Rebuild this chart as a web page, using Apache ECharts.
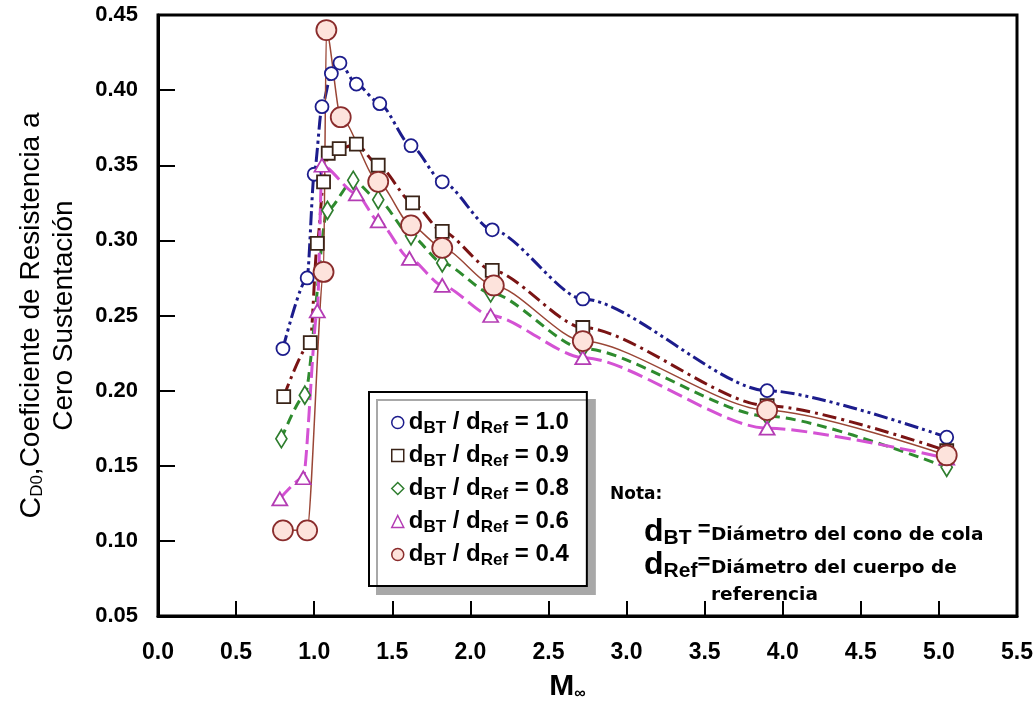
<!DOCTYPE html>
<html><head><meta charset="utf-8">
<script src="https://cdn.jsdelivr.net/npm/echarts@6/dist/echarts.min.js"></script>
<style>html,body{margin:0;padding:0;background:#fff}#c{width:1036px;height:707px}</style>
</head><body><div id="c"></div><script>
// ---- data ----
const xTickValues = [0.0, 0.5, 1.0, 1.5, 2.0, 2.5, 3.0, 3.5, 4.0, 4.5, 5.0, 5.5];
const yTickValues = [0.05, 0.10, 0.15, 0.20, 0.25, 0.30, 0.35, 0.40, 0.45];
const ratioLabels = ['1.0', '0.9', '0.8', '0.6', '0.4'];

const mach_10 = [0.80, 0.955, 1.00, 1.05, 1.11, 1.165, 1.27, 1.42, 1.62, 1.82, 2.14, 2.72, 3.90, 5.05];
const cd_10   = [0.228, 0.275, 0.344, 0.389, 0.411, 0.418, 0.404, 0.391, 0.363, 0.339, 0.307, 0.261, 0.200, 0.169];

const mach_09 = [0.805, 0.975, 1.02, 1.06, 1.09, 1.16, 1.27, 1.41, 1.63, 1.82, 2.14, 2.72, 3.90, 5.05];
const cd_09   = [0.196, 0.232, 0.298, 0.339, 0.358, 0.361, 0.364, 0.350, 0.325, 0.306, 0.280, 0.242, 0.190, 0.160];

const mach_08 = [0.79, 0.94, 1.085, 1.25, 1.41, 1.62, 1.82, 2.13, 2.72, 3.90, 5.05];
const cd_08   = [0.168, 0.197, 0.320, 0.340, 0.327, 0.303, 0.285, 0.265, 0.228, 0.183, 0.149];

const mach_06 = [0.78, 0.93, 1.02, 1.05, 1.27, 1.41, 1.61, 1.82, 2.13, 2.72, 3.90, 5.05];
const cd_06   = [0.128, 0.142, 0.253, 0.350, 0.331, 0.313, 0.288, 0.270, 0.250, 0.222, 0.175, 0.155];

const mach_04 = [0.80, 0.955, 1.06, 1.078, 1.17, 1.41, 1.62, 1.82, 2.15, 2.72, 3.90, 5.05];
const cd_04   = [0.107, 0.107, 0.279, 0.440, 0.382, 0.339, 0.310, 0.295, 0.270, 0.233, 0.187, 0.157];

// ---- styling ----
const pairs = (x, y) => x.map((v, i) => [v, y[i]]);
const FONT = 'Liberation Sans, Arial, sans-serif';
const styles = [
  { name: ratioLabels[0], data: pairs(mach_10, cd_10), line: '#1c1c8c', dash: [14, 4, 3, 4, 3, 4], width: 3, symbol: 'circle', size: 13, stroke: '#1c1c8c', fill: '#ffffff' },
  { name: ratioLabels[1], data: pairs(mach_09, cd_09), line: '#7a1414', dash: [14, 5, 3, 5], width: 3, symbol: 'rect', size: 13, stroke: '#3a2418', fill: '#ffffff' },
  { name: ratioLabels[2], data: pairs(mach_08, cd_08), line: '#2e8b2e', dash: [10, 6], width: 3, symbol: 'diamond', size: [11, 18], stroke: '#2e7d2e', fill: '#ffffff' },
  { name: ratioLabels[3], data: pairs(mach_06, cd_06), line: '#d452d4', dash: [16, 6], width: 3, symbol: 'triangle', size: [15, 13], stroke: '#b43cb4', fill: '#ffffff' },
  { name: ratioLabels[4], data: pairs(mach_04, cd_04), line: '#9a4636', dash: 'solid', width: 1.5, symbol: 'circle', size: 20, stroke: '#8a2c2c', fill: '#fde3dc' }
];

const series = styles.map(s => ({
  name: s.name, type: 'line', data: s.data, smooth: 0.25, smoothMonotone: 'x',
  symbol: s.symbol, symbolSize: s.size, showAllSymbol: true,
  lineStyle: { color: s.line, width: s.width, type: s.dash },
  itemStyle: { color: s.fill, borderColor: s.stroke, borderWidth: 1.8 },
  emphasis: { disabled: true }, silent: true, z: 3
}));

const legendData = styles.map(s => ({
  name: s.name, icon: s.symbol,
  itemStyle: { color: s.fill, borderColor: s.stroke, borderWidth: 1.5 }
}));

const noteFont = 'bold 18.5px "DejaVu Sans", sans-serif';
const noteRich = {
  d: { font: 'bold 32px "Liberation Sans", Arial', lineHeight: 36 },
  s: { font: 'bold 21px "Liberation Sans", Arial', padding: [13, 0, 0, 0], lineHeight: 36 },
  e: { font: 'bold 22px "Liberation Sans", Arial', padding: [0, 0, 4, 0], lineHeight: 36 }
};

const chart = echarts.init(document.getElementById('c'), null, { renderer: 'canvas' });
chart.setOption({
  animation: false,
  backgroundColor: '#fff',
  grid: { left: 158, right: 19, top: 15, bottom: 87, show: true, borderColor: '#000', borderWidth: 3, backgroundColor: 'transparent' },
  xAxis: {
    type: 'value', min: xTickValues[0], max: xTickValues[xTickValues.length - 1], interval: 0.5,
    axisLine: { lineStyle: { color: '#000', width: 3 } },
    axisTick: { inside: true, length: 15, lineStyle: { color: '#000', width: 2 } },
    splitLine: { show: false },
    axisLabel: { margin: 25, color: '#000', fontFamily: FONT, fontWeight: 'bold', fontSize: 23,
      formatter: v => v.toFixed(1) },
    name: '{m|M}{s|∞}', nameLocation: 'middle', nameGap: 56,
    nameTextStyle: { padding: [0, 40, 0, 0], rich: {
      m: { fontFamily: FONT, fontWeight: 'bold', fontSize: 30, color: '#000' },
      s: { fontFamily: FONT, fontWeight: 'bold', fontSize: 16, color: '#000', padding: [14, 0, 0, 0] } } }
  },
  yAxis: {
    type: 'value', min: yTickValues[0], max: yTickValues[yTickValues.length - 1], interval: 0.05,
    axisLine: { lineStyle: { color: '#000', width: 3 } },
    axisTick: { inside: true, length: 17, lineStyle: { color: '#000', width: 2 } },
    splitLine: { show: false },
    axisLabel: { margin: 20, color: '#000', fontFamily: FONT, fontWeight: 'bold', fontSize: 22,
      formatter: v => v.toFixed(2) },
    name: '{c|C}{s|D0}{a|,Coeficiente de Resistencia a}\n{a|Cero Sustentación}',
    nameLocation: 'middle', nameRotate: 90, nameGap: 77,
    nameTextStyle: { align: 'center', rich: {
      a: { fontFamily: FONT, fontSize: 28, color: '#000', lineHeight: 33 },
      c: { fontFamily: FONT, fontSize: 30, color: '#000', lineHeight: 33 },
      s: { fontFamily: FONT, fontSize: 17, color: '#000', padding: [12, 0, 0, 0], lineHeight: 33 } } }
  },
  legend: {
    orient: 'vertical', left: 369, top: 392, selectedMode: false,
    padding: [16, 18, 17, 22], itemGap: 4, itemWidth: 12, itemHeight: 12,
    backgroundColor: '#fff', borderColor: '#000', borderWidth: 2, borderRadius: 0,
    shadowColor: '#a8a8a8', shadowBlur: 0, shadowOffsetX: 8, shadowOffsetY: 8,
    data: legendData,
    formatter: n => '{d|d}{s|BT}{d| / d}{s|Ref}{d| = ' + n + '}',
    textStyle: { rich: {
      d: { fontFamily: FONT, fontWeight: 'bold', fontSize: 24, color: '#000', lineHeight: 29 },
      s: { fontFamily: FONT, fontWeight: 'bold', fontSize: 17, color: '#000', padding: [12, 0, 0, 0], lineHeight: 29 } } }
  },
  graphic: [
    { type: 'text', left: 610, top: 486, silent: true,
      style: { text: 'Nota:', font: 'bold 17px "DejaVu Sans", sans-serif', fill: '#000' } },
    { type: 'text', left: 644, top: 515, silent: true,
      style: { text: '{d|d}{s|BT}{e| =}', fill: '#000', rich: noteRich } },
    { type: 'text', left: 711, top: 526, silent: true,
      style: { text: 'Diámetro del cono de cola', font: noteFont, fill: '#000' } },
    { type: 'text', left: 644, top: 548, silent: true,
      style: { text: '{d|d}{s|Ref}{e|=}', fill: '#000', rich: noteRich } },
    { type: 'text', left: 711, top: 559, silent: true,
      style: { text: 'Diámetro del cuerpo de', font: noteFont, fill: '#000' } },
    { type: 'text', left: 711, top: 586, silent: true,
      style: { text: 'referencia', font: noteFont, fill: '#000' } }
  ],
  series: series
});
</script></body></html>
